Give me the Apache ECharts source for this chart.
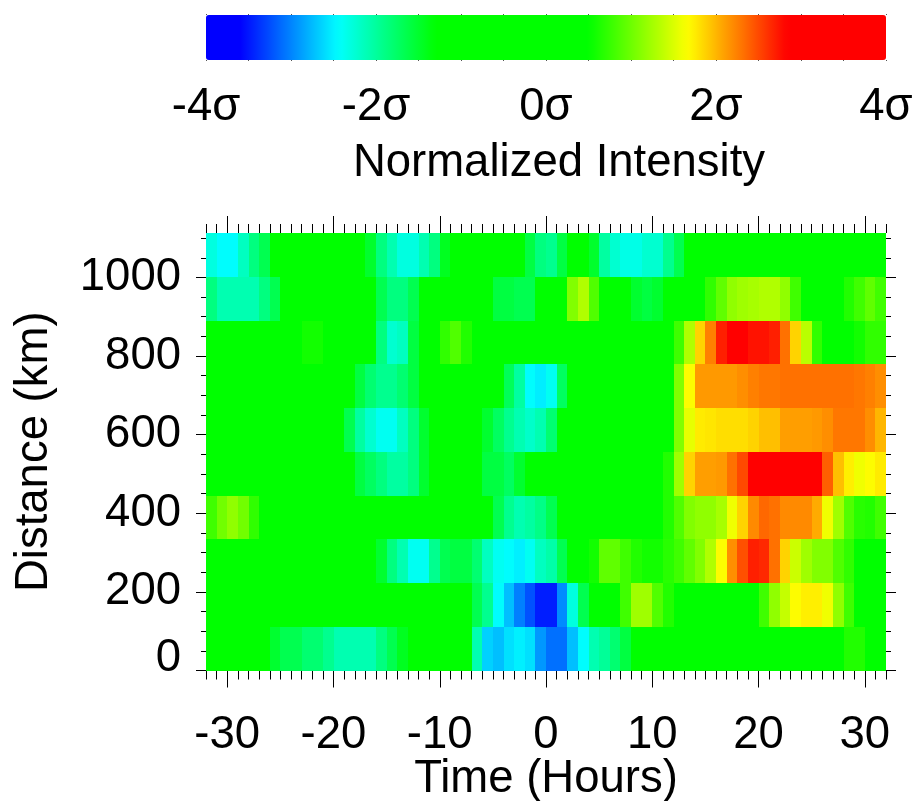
<!DOCTYPE html>
<html>
<head>
<meta charset="utf-8">
<style>html,body{margin:0;padding:0;background:#fff}#c{width:913px;height:801px}</style>
<script src="https://cdn.jsdelivr.net/npm/echarts@6/dist/echarts.min.js"></script>
</head>
<body>
<div id="c"></div>
<script>
// Rows run from the lowest distance bin (row0) to the highest (row9); each has one value per hour bin.
const row0 = [0,0,0,0,0,0,-1.51,-1.66,-1.66,-1.8,
  -1.8,-1.94,-2.09,-2.09,-2.09,-2.09,-1.87,-1.66,-1.44,0,
  0,0,0,0,0,-2.09,-2.65,-2.73,-2.58,-2.51,
  -2.58,-2.91,-3.09,-3.09,-2.73,-2.44,-2.09,-1.98,-1.8,-1.59,
  0,0,0,0,0,0,0,0,0,0,
  0,0,0,0,0,0,0,0,0,0,
  0.65,0.65,0,0];
const row1 = [0,0,0,0,0,0,0,0,0,0,
  0,0,0,0,0,0,0,0,0,0,
  0,0,0,0,0,-1.66,-1.94,-2.44,-2.73,-3.02,
  -3.23,-3.47,-3.47,-2.97,-2.3,-1.66,0,0,0,0.79,
  1.23,1.23,0.87,0.65,0,0,0,0,0,0,
  0,0,0.79,1.16,1.4,1.67,1.74,1.74,1.6,1.16,
  0.79,0,0,0];
const row2 = [0,0,0,0,0,0,0,0,0,0,
  0,0,0,0,0,0,-1.51,-1.87,-2.09,-2.38,
  -2.38,-1.94,-1.66,-1.59,-1.59,-1.8,-2.16,-2.38,-2.44,-2.51,
  -2.38,-2.16,-2.05,-1.66,0,0,0.58,0.94,0.94,0.79,
  0.65,0.58,0.58,0.68,0.79,0.94,1.09,1.31,1.67,2.18,
  2.47,2.69,2.65,2.32,1.87,1.43,1.23,1.09,1.09,0.87,
  0.72,0,0,0];
const row3 = [0.79,1.02,1.16,1.02,0.72,0,0,0,0,0,
  0,0,0,0,0,0,0,0,0,0,
  0,0,0,0,0,0,0,-1.66,-1.94,-2.09,
  -2.02,-1.9,-1.66,0,0,0,0,0,0,0,
  0,0,0,0.65,0.87,1.09,1.16,1.16,1.27,1.6,
  1.87,2.2,2.36,2.32,2.2,2.2,2.2,2.05,1.6,1.23,
  0.87,0.68,0.65,0.79];
const row4 = [0,0,0,0,0,0,0,0,0,0,
  0,0,0,0,-1.59,-1.73,-1.87,-2.02,-2.02,-1.87,
  -1.51,0,0,0,0,0,-1.59,-1.59,-1.73,-1.51,
  0,0,0,0,0,0,0,0,0,0,
  0,0,0,0.65,1.23,1.87,2.11,2.11,2.13,2.32,
  2.5,3,3,3,3,3,3,3,2.4,1.96,
  1.74,1.6,1.67,1.76];
const row5 = [0,0,0,0,0,0,0,0,0,0,
  0,0,0,-1.66,-2.02,-2.23,-2.38,-2.38,-2.16,-1.87,
  -1.51,0,0,0,0,0,-1.51,-1.73,-1.94,-2.09,
  -2.2,-2.09,-1.8,0,0,0,0,0,0,0,
  0,0,0,0,1.09,1.56,1.76,1.78,1.82,1.82,
  1.82,1.87,1.96,1.96,2.11,2.11,2.11,2.13,2.18,2.29,
  2.29,2.29,2.18,2.0];
const row6 = [0,0,0,0,0,0,0,0,0,0,
  0,0,0,0,-1.59,-1.8,-1.94,-1.94,-1.8,-1.59,
  0,0,0,0,0,0,0,0,-1.7,-2.02,
  -2.44,-2.52,-2.38,-1.73,0,0,0,0,0,0,
  0,0,0,0,1.09,1.67,2.13,2.13,2.13,2.13,
  2.18,2.25,2.29,2.29,2.32,2.32,2.32,2.32,2.32,2.32,
  2.32,2.29,2.25,2.18];
const row7 = [0,0,0,0,0,0,0,0,0,0.58,
  0.58,0,0,0,0,0,-1.87,-2.23,-2.16,-1.59,
  0,0,0.72,0.87,0.65,0,0,0,0,0,
  0,0,0,0,0,0,0,0,0,0,
  0,0,0,0,0.79,1.31,1.87,2.25,2.69,3,
  3,2.75,2.75,2.69,2.32,1.87,1.35,0.72,0,0,
  0,0.58,0.72,0.72];
const row8 = [-1.87,-2.09,-2.09,-2.09,-2.09,-1.87,-1.66,0,0,0,
  0,0,0,0,0,0,-1.66,-1.87,-1.87,-1.66,
  0,0,0,0,0,0,0,-1.59,-1.59,-1.66,
  -1.66,0,0,0,1.09,1.31,0.87,0,0,0,
  -1.51,-1.59,-1.51,0,0,0,0,0.72,0.94,1.16,
  1.23,1.27,1.31,1.31,1.16,0.79,0,0,0,0,
  0.65,0.79,0.94,0.79];
const row9 = [-2.3,-2.44,-2.44,-2.16,-1.87,-1.66,0,0,0,0,
  0,0,0,0,0,-1.5,-1.87,-2.09,-2.3,-2.3,
  -2.09,-1.87,-1.44,0,0,0,0,0,0,0,
  -1.6,-1.87,-1.94,-1.6,0,0,-1.5,-2.02,-2.23,-2.33,
  -2.33,-2.23,-2.23,-1.94,-1.66,0,0,0,0,0,
  0,0,0,0,0,0,0,0,0,0,
  0,0,0,0];
const rows = [row0,row1,row2,row3,row4,row5,row6,row7,row8,row9];

const xTicks = [-30,-20,-10,0,10,20,30];
const yTicks = [0,200,400,600,800,1000];
const sigmaTicks = [-4,-2,0,2,4];
const X_MIN = -32, X_MAX = 32, Y_MIN = 0, Y_MAX = 1113;
const BIN_H = 1, BIN_KM = 111.3;

const cells = [];
rows.forEach((r, j) => r.forEach((v, i) => cells.push([X_MIN + i*BIN_H, j*BIN_KM, v])));

const xMinor = [];
for (let v = X_MIN; v <= X_MAX; v++) if (!xTicks.includes(v)) xMinor.push(v);
const yMinor = [];
for (let v = 0; v <= 1100; v += 50) if (!yTicks.includes(v)) yMinor.push(v);

const anchors = [[-4,[0,0,255]],[-3.6,[0,0,255]],[-2.44,[0,255,255]],[-1.3,[0,255,0]],
                 [0.5,[0,255,0]],[1.67,[255,255,0]],[2.83,[255,0,0]],[4,[255,0,0]]];
function colorAt(v){
  for (let i = 1; i < anchors.length; i++){
    if (v <= anchors[i][0] + 1e-9){
      const [a,ca] = anchors[i-1], [b,cb] = anchors[i], t = (v-a)/(b-a);
      return 'rgb(' + ca.map((c,k)=>Math.round(c+(cb[k]-c)*t)).join(',') + ')';
    }
  }
  return 'rgb(255,0,0)';
}
const palette = [];
for (let i = 0; i <= 160; i++) palette.push(colorAt(-4 + i*0.05));

const FONT = 'Liberation Sans';
const SIZE = 45.5;
const plot = {left:206, top:233, width:680, height:437.5, outerBoundsMode:'none'};
const grids = [{left:206, top:15, width:680, height:45, outerBoundsMode:'none'}, plot, Object.assign({},plot)];
const tickBase = {show:true,lineStyle:{color:'#000',width:1}};
const noLine = {axisLine:{show:false,onZero:false},splitLine:{show:false}};
const scaleX = {type:'value',min:X_MIN,max:X_MAX, ...noLine};
const scaleY = {type:'value',min:Y_MIN,max:Y_MAX, ...noLine};
const xAxis = [
  {gridIndex:0,type:'value',min:-4,max:4,interval:0.5,position:'bottom',...noLine,
   axisTick:{show:true,length:1,lineStyle:{color:'#555',width:1}},
   axisLabel:{customValues:sigmaTicks,formatter:v=>v+'σ',fontFamily:FONT,fontSize:SIZE,color:'#000',margin:24},
   name:'Normalized Intensity',nameLocation:'middle',nameGap:80,nameMoveOverlap:false,
   nameTextStyle:{fontFamily:FONT,fontSize:SIZE,color:'#000',padding:[0,0,0,26]}},
  {gridIndex:0,type:'value',min:-4,max:4,interval:0.5,position:'top',...noLine,axisLabel:{show:false},
   axisTick:{show:true,length:1,lineStyle:{color:'#555',width:1}}},
  {gridIndex:1,...scaleX,position:'bottom',
   axisTick:{customValues:xTicks,length:17,...tickBase},
   axisLabel:{customValues:xTicks,fontFamily:FONT,fontSize:SIZE,color:'#000',margin:42},
   name:'Time (Hours)',nameLocation:'middle',nameGap:86,nameMoveOverlap:false,
   nameTextStyle:{fontFamily:FONT,fontSize:SIZE,color:'#000'}},
  {gridIndex:1,...scaleX,position:'top',axisLabel:{show:false},
   axisTick:{customValues:xTicks,length:17,...tickBase}},
  {gridIndex:2,...scaleX,position:'bottom',axisLabel:{show:false},
   axisTick:{customValues:xMinor,length:9,...tickBase}},
  {gridIndex:2,...scaleX,position:'top',axisLabel:{show:false},
   axisTick:{customValues:xMinor,length:9,...tickBase}}
];
const yAxis = [
  {gridIndex:0,type:'value',min:0,max:1,show:false},
  {gridIndex:1,...scaleY,position:'left',
   axisTick:{customValues:yTicks,length:10,...tickBase},
   axisLabel:{customValues:yTicks,formatter:v=>String(v),fontFamily:FONT,fontSize:SIZE,color:'#000',margin:25,
              lineHeight:24,padding:[20,0,0,0],verticalAlignMinLabel:'bottom'},
   name:'Distance (km)',nameLocation:'middle',nameGap:149,
   nameTextStyle:{fontFamily:FONT,fontSize:SIZE,color:'#000'}},
  {gridIndex:1,...scaleY,position:'right',axisLabel:{show:false},
   axisTick:{customValues:yTicks,length:10,...tickBase}},
  {gridIndex:2,...scaleY,position:'left',axisLabel:{show:false},
   axisTick:{customValues:yMinor,length:5,...tickBase}},
  {gridIndex:2,...scaleY,position:'right',axisLabel:{show:false},
   axisTick:{customValues:yMinor,length:5,...tickBase}}
];

function renderCell(params, api){
  const p0 = api.coord([api.value(0), api.value(1)]);
  const p1 = api.coord([api.value(0) + BIN_H, api.value(1) + BIN_KM]);
  const x0 = Math.round(p0[0]), x1 = Math.round(p1[0]);
  const y1 = Math.round(p0[1]), y0 = Math.round(p1[1]);
  return {type:'rect', shape:{x:x0, y:y0, width:x1-x0, height:y1-y0},
          style:{fill:api.visual('color')}};
}

const chart = echarts.init(document.getElementById('c'), null, {renderer:'canvas'});
chart.setOption({
  animation:false,
  backgroundColor:'#fff',
  grid:grids,
  xAxis, yAxis,
  visualMap:{
    type:'continuous',min:-4,max:4,seriesIndex:0,dimension:2,
    orient:'horizontal',left:206,top:15,itemWidth:45,itemHeight:680,padding:0,
    calculable:false,realtime:false,text:null,showLabel:false,hoverLink:false,
    inRange:{color:palette}
  },
  series:[{
    type:'custom',xAxisIndex:2,yAxisIndex:1,data:cells,
    encode:{x:0,y:1},renderItem:renderCell,clip:false,silent:true,progressive:0
  }]
});
</script>
</body>
</html>
